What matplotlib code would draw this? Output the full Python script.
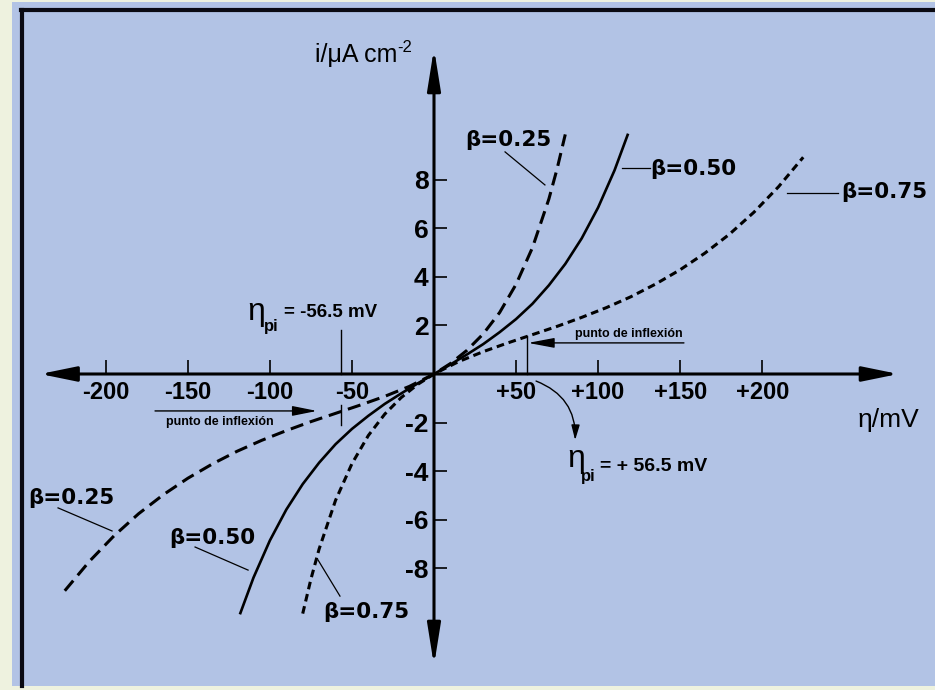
import matplotlib.pyplot as plt
from matplotlib.patches import Rectangle
from matplotlib.lines import Line2D

plt.rcParams['lines.scale_dashes'] = False

NARROW = ['Liberation Sans Narrow', 'Liberation Sans', 'DejaVu Sans']
SANS = ['Liberation Sans', 'DejaVu Sans']

# curves: overpotential eta in mV, current density i in uA cm-2
eta_b25 = [-225, -210, -195, -180, -165, -150, -135, -120, -105, -90, -75, -60, -45,
           -30, -15, 0, 10, 20, 30, 40, 50, 60, 70, 75, 80]
i_b25 = [-8.92, -7.71, -6.66, -5.75, -4.97, -4.29, -3.70, -3.18, -2.73, -2.33, -1.96,
         -1.62, -1.28, -0.92, -0.51, 0, 0.43, 0.97, 1.65, 2.53, 3.69, 5.20, 7.20, 8.44, 9.86]

eta_b50 = [-118, -110, -100, -90, -80, -70, -60, -50, -40, -30, -20, -10, 0,
           10, 20, 30, 40, 50, 60, 70, 80, 90, 100, 110, 118]
i_b50 = [-9.84, -8.38, -6.85, -5.58, -4.53, -3.65, -2.89, -2.26, -1.72, -1.23, -0.80,
         -0.39, 0, 0.39, 0.80, 1.23, 1.72, 2.26, 2.89, 3.65, 4.53, 5.58, 6.85, 8.38, 9.84]

eta_b75 = [-80, -75, -70, -60, -50, -40, -30, -20, -10, 0, 15, 30, 45, 60, 75, 90,
           105, 120, 135, 150, 165, 180, 195, 210, 225]
i_b75 = [-9.86, -8.44, -7.20, -5.20, -3.69, -2.53, -1.65, -0.97, -0.43, 0, 0.51, 0.92,
         1.28, 1.62, 1.96, 2.33, 2.73, 3.18, 3.70, 4.29, 4.97, 5.75, 6.66, 7.71, 8.92]

x_ticks = [-200, -150, -100, -50, 50, 100, 150, 200]
x_labels = ['-200', '-150', '-100', '-50', '+50', '+100', '+150', '+200']
y_ticks = [-8, -6, -4, -2, 2, 4, 6, 8]
y_labels = ['-8', '-6', '-4', '-2', '2', '4', '6', '8']

eta_pi = 56.5

fig = plt.figure(figsize=(9.35, 6.9), dpi=100)
fig.patch.set_facecolor('#eef2df')
fig.patches.append(Rectangle((12 / 935, 4 / 690), 1, 1 - 6 / 690, transform=fig.transFigure,
                             facecolor='#b2c3e5', edgecolor='none', zorder=-2))
fig.lines.append(Line2D([22 / 935, 22 / 935], [4 / 690, 1 - 9.5 / 690], transform=fig.transFigure,
                        color='#0a0a12', lw=3, zorder=-1))
fig.lines.append(Line2D([20.5 / 935, 1], [1 - 9.5 / 690, 1 - 9.5 / 690], transform=fig.transFigure,
                        color='#0a0a12', lw=3, zorder=-1))

ax = fig.add_axes([0, 0, 1, 1])
ax.patch.set_visible(False)
ax.set_xlim(-434 / 1.641, (935 - 434) / 1.641)
ax.set_ylim((374 - 690) / 24.3, 374 / 24.3)
for s in ax.spines.values():
    s.set_visible(False)
ax.spines['left'].set_position(('data', 0))
ax.spines['bottom'].set_position(('data', 0))

# axes with arrow heads at both ends
ax.annotate('', xy=(-240, 0), xytext=(283, 0),
            arrowprops=dict(arrowstyle='<|-|>,head_length=2.2,head_width=0.45',
                            color='k', lw=2.2, shrinkA=0, shrinkB=0))
ax.annotate('', xy=(0, 13.4), xytext=(0, -12.0),
            arrowprops=dict(arrowstyle='<|-|>,head_length=2.5,head_width=0.4',
                            color='k', lw=2.2, shrinkA=0, shrinkB=0))

ax.set_xticks(x_ticks, x_labels)
ax.set_yticks(y_ticks, y_labels)
ax.tick_params(axis='x', direction='in', length=10, width=1.2, pad=5, labelsize=17)
ax.tick_params(axis='y', direction='in', length=9, width=1.2, pad=4, labelsize=19)
for lab in ax.get_xticklabels() + ax.get_yticklabels():
    lab.set_family(NARROW)
    lab.set_fontweight('bold')

# the three curves
ax.plot(eta_b25, i_b25, color='k', lw=2.2, dashes=(9.5, 5))
ax.plot(eta_b50, i_b50, color='k', lw=1.9)
ax.plot(eta_b75, i_b75, color='k', lw=2.2, dashes=(5.5, 3.5))

# axis titles
ax.text(-72.5, 12.84, 'i/μA cm', fontsize=18, family=SANS, va='baseline')
ax.text(-22.5, 13.25, '-2', fontsize=12, family=SANS, va='baseline')
ax.text(258, -2.18, 'η/mV', fontsize=19, family=SANS, va='baseline')

# beta labels with leader lines
beta_labels = [('β=0.25', 45.1, 9.63, (43.3, 67.6), (9.14, 7.78)),
               ('β=0.50', 157.8, 8.44, (114.6, 131.6), (8.48, 8.48)),
               ('β=0.75', 274.2, 7.49, (215.1, 246.2), (7.45, 7.45)),
               ('β=0.25', -221.2, -5.10, (-229.1, -196.2), (-5.51, -6.46)),
               ('β=0.50', -135.3, -6.75, (-145.6, -113.3), (-7.12, -8.07)),
               ('β=0.75', -41.4, -9.79, (-70.7, -57.3), (-7.65, -9.14))]
for txt, tx, ty, lx, ly in beta_labels:
    ax.text(tx, ty, txt, fontsize=15.5, fontweight='bold', family=['DejaVu Sans'],
            ha='center', va='center')
    ax.plot(lx, ly, color='k', lw=0.9)

# inflection points
ax.plot([-eta_pi, -eta_pi], [0, 1.81], color='k', lw=1)
ax.plot([-eta_pi, -eta_pi], [-1.28, -2.1], color='k', lw=1)
ax.plot([eta_pi, eta_pi], [0, 1.55], color='k', lw=1)

ax.annotate('', xy=(57.3, 1.28), xytext=(152.3, 1.28),
            arrowprops=dict(arrowstyle='-|>,head_length=1.6,head_width=0.3',
                            color='k', lw=1, shrinkA=0, shrinkB=0))
ax.annotate('', xy=(-71.3, -1.52), xytext=(-170, -1.52),
            arrowprops=dict(arrowstyle='-|>,head_length=1.5,head_width=0.3',
                            color='k', lw=1, shrinkA=0, shrinkB=0))
ax.text(119, 1.64, 'punto de inflexión', fontsize=9, fontweight='bold', family=NARROW,
        ha='center', va='center')
ax.text(-130.5, -1.97, 'punto de inflexión', fontsize=9, fontweight='bold', family=NARROW,
        ha='center', va='center')

ax.annotate('', xy=(86, -2.72), xytext=(62.2, -0.29),
            arrowprops=dict(arrowstyle='-|>,head_length=0.9,head_width=0.25',
                            connectionstyle='arc3,rad=-0.35',
                            color='k', lw=1, shrinkA=0, shrinkB=0))

ax.text(-114, 2.22, 'η', fontsize=23, family=SANS, va='baseline')
ax.text(-103.5, 1.77, 'pi', fontsize=12, fontweight='bold', family=SANS, va='baseline')
ax.text(-91.4, 2.35, '= -56.5 mV', fontsize=13.5, fontweight='bold', family=NARROW,
        va='baseline')

ax.text(81, -3.83, 'η', fontsize=23, family=SANS, va='baseline')
ax.text(89.5, -4.40, 'pi', fontsize=12, fontweight='bold', family=SANS, va='baseline')
ax.text(101.2, -3.99, '= + 56.5 mV', fontsize=14, fontweight='bold', family=NARROW,
        va='baseline')

fig.savefig('out.png', dpi=100)
